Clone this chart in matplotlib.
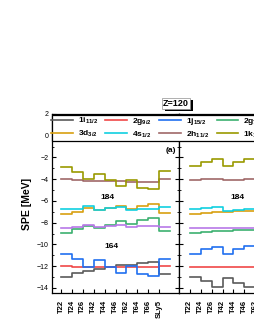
import numpy as np
import matplotlib
matplotlib.use("Agg")
import matplotlib.pyplot as plt
from matplotlib.patches import Rectangle
from matplotlib.ticker import MultipleLocator

plt.rcParams['font.family'] = ['Liberation Sans', 'DejaVu Sans']
plt.rcParams['mathtext.fontset'] = 'custom'
plt.rcParams['mathtext.rm'] = 'Liberation Sans'
plt.rcParams['mathtext.bf'] = 'Liberation Sans:bold'

forces = ['T22', 'T24', 'T26', 'T42', 'T44', 'T46', 'T62', 'T64', 'T66', 'SLy5']

labels = [r'1i$_{\mathbf{11/2}}$', r'2g$_{\mathbf{9/2}}$', r'1j$_{\mathbf{15/2}}$', r'2g$_{\mathbf{7/2}}$',
          r'3d$_{\mathbf{3/2}}$', r'4s$_{\mathbf{1/2}}$', r'2h$_{\mathbf{11/2}}$', r'1k$_{\mathbf{17/2}}$',
          r'3d$_{\mathbf{5/2}}$']
colors = ['#5a5a5a', '#f04848', '#2070f0', '#3cb070', '#d8a010', '#10d0e0', '#a06868', '#9a9a00', '#b878e8']

# left panel (a)
left_1i11 = [-12.98, -12.67, -12.43, -12.30, -12.10, -11.90, -11.90, -11.75, -11.66, -12.73]
left_2g9 = [-12.02, -12.05, -12.08, -12.10, -12.10, -12.10, -12.08, -12.08, -12.05, -12.00]
left_1j15 = [-10.90, -11.38, -12.06, -11.44, -12.06, -12.60, -12.00, -12.73, -12.92, -11.38]
left_2g7 = [-8.93, -8.62, -8.31, -8.52, -8.22, -7.82, -8.13, -7.76, -7.60, -8.77]
left_3d3 = [-7.20, -6.98, -6.69, -6.84, -6.69, -6.45, -6.78, -6.45, -6.29, -7.15]
left_4s1 = [-6.75, -6.70, -6.47, -6.80, -6.66, -6.54, -6.84, -6.78, -6.78, -6.54]
left_2h11 = [-4.02, -4.08, -4.12, -4.15, -4.20, -4.20, -4.25, -4.28, -4.25, -4.00]
left_1k17 = [-2.85, -3.37, -3.99, -3.53, -4.08, -4.63, -4.08, -4.78, -4.90, -3.25]
left_3d5 = [-8.53, -8.38, -8.26, -8.38, -8.32, -8.22, -8.38, -8.32, -8.32, -8.38]

# right panel
right_1i11 = [-12.98, -13.38, -13.96, -13.07, -13.53, -13.96, -13.30, -13.60, -13.90, -13.00]
right_2g9 = [-12.06, -12.06, -12.06, -12.06, -12.06, -12.06, -12.06, -12.06, -12.06, -12.06]
right_1j15 = [-10.90, -10.46, -10.28, -10.84, -10.46, -10.16, -10.50, -10.30, -10.20, -10.80]
right_2g7 = [-8.93, -8.84, -8.77, -8.77, -8.68, -8.68, -8.62, -8.60, -8.55, -8.80]
right_3d3 = [-7.21, -7.15, -7.06, -7.06, -6.93, -6.90, -7.15, -7.00, -6.90, -7.10]
right_4s1 = [-6.75, -6.69, -6.60, -6.93, -6.84, -6.78, -6.78, -6.75, -6.70, -6.80]
right_2h11 = [-4.08, -3.99, -3.95, -4.08, -4.05, -4.02, -4.02, -4.00, -4.00, -4.05]
right_1k17 = [-2.76, -2.45, -2.15, -2.76, -2.45, -2.15, -2.55, -2.30, -2.20, -2.80]
right_3d5 = [-8.50, -8.50, -8.52, -8.52, -8.50, -8.47, -8.47, -8.45, -8.45, -8.50]

left_series = [left_1i11, left_2g9, left_1j15, left_2g7, left_3d3, left_4s1, left_2h11, left_1k17, left_3d5]
right_series = [right_1i11, right_2g9, right_1j15, right_2g7, right_3d3, right_4s1, right_2h11, right_1k17, right_3d5]

W, H = 255, 330
fig = plt.figure(figsize=(W / 100, H / 100), dpi=100)

ax_bottom = (H - 293.3) / H
ax_height = 179.3 / H
ax_w = 127 / W
axL = fig.add_axes([52 / W, ax_bottom, ax_w, ax_height])
axR = fig.add_axes([179 / W, ax_bottom, ax_w, ax_height], sharey=axL)

handles = []
for ax, series in ((axL, left_series), (axR, right_series)):
    x = np.arange(len(forces) + 1)
    for vals, c, lab in zip(series, colors, labels):
        y = np.append(vals, vals[-1])
        ln, = ax.step(x, y, where='post', color=c, lw=1.2, label=lab)
        if ax is axL:
            handles.append(ln)
    ax.set_xticks(np.arange(len(forces)))
    ax.set_xticklabels(forces, rotation=90, fontsize=5.5, fontweight='bold')
    ax.yaxis.set_major_locator(MultipleLocator(2))
    ax.yaxis.set_minor_locator(MultipleLocator(1))
    ax.tick_params(axis='both', which='major', direction='in', length=3, width=0.8)
    ax.tick_params(axis='y', which='minor', direction='in', length=1.6, width=0.6)
    ax.tick_params(axis='y', which='both', left=True, right=True)
    ax.tick_params(axis='x', which='major', pad=5)
    for s in ax.spines.values():
        s.set_linewidth(0.9)

axL.set_xlim(-0.83, -0.83 + 127 / 10.9)
axR.set_xlim(-1.0, -1.0 + 127 / 10.9)
axL.set_ylim(-14.5, 2)
axL.tick_params(axis='y', labelsize=5, pad=2.5)
axR.tick_params(axis='y', labelleft=False)
axL.set_ylabel('SPE [MeV]', fontsize=7.5, fontweight='bold', labelpad=3)

tb = dict(fontsize=6, fontweight='bold', ha='center', va='center')
axL.text(4.3, -5.7, '184', **tb)
axL.text(4.6, -10.2, '164', **tb)
axL.text(10.1, -1.4, '(a)', **tb)
axR.text(4.36, -5.7, '184', **tb)

# legend frame spanning both panels
leg_top = 114.5
leg_bot = 141
fig.add_artist(Rectangle((52 / W, (H - leg_bot) / H), (340 - 52) / W, (leg_bot - leg_top) / H,
                         transform=fig.transFigure, facecolor='white', edgecolor='black',
                         lw=0.9, zorder=4))
order = [0, 4, 1, 5, 2, 6, 3, 7, 8]
fig.legend([handles[i] for i in order], [labels[i] for i in order], ncol=5,
           loc='center left', bbox_to_anchor=(50 / W, (H - (leg_top + leg_bot) / 2) / H),
           frameon=False, prop={'weight': 'bold', 'size': 6},
           handlelength=2.6, handletextpad=0.6, columnspacing=0.9, labelspacing=0.25,
           borderpad=0.1, borderaxespad=0)

# Z=120 label with a black drop shadow
fig.add_artist(Rectangle((164.5 / W, (H - 111) / H), 28.5 / W, 11 / H,
                         transform=fig.transFigure, facecolor='black', edgecolor='black',
                         lw=0, zorder=6))
fig.add_artist(Rectangle((162 / W, (H - 109) / H), 28.5 / W, 11 / H,
                         transform=fig.transFigure, facecolor='white', edgecolor='#909090',
                         lw=0.5, zorder=7))
fig.text(176 / W, (H - 103.5) / H, 'Z=120', fontsize=6.5, fontweight='bold', ha='center', va='center',
         color='black', zorder=8)

fig.savefig('out.png', dpi=100)
